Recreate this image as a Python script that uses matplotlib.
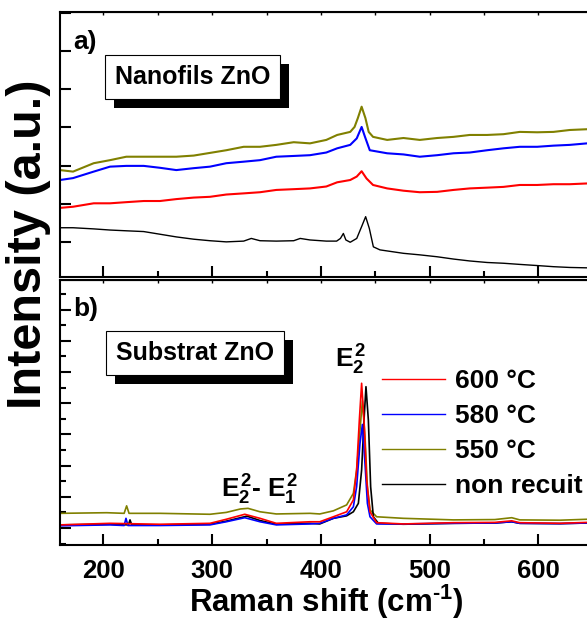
import matplotlib.pyplot as plt
import matplotlib.patheffects as pe
from matplotlib.ticker import MultipleLocator

plt.rcParams['font.family'] = ['Liberation Sans', 'DejaVu Sans']
plt.rcParams['font.weight'] = 'bold'
plt.rcParams['axes.labelweight'] = 'bold'
plt.rcParams['mathtext.fontset'] = 'custom'
plt.rcParams['mathtext.rm'] = 'Liberation Sans:bold'
plt.rcParams['mathtext.bf'] = 'Liberation Sans:bold'
plt.rcParams['mathtext.it'] = 'Liberation Sans:bold'

# a) nanowires, values (a.u.)
olive_a_x = [160, 172, 191, 206, 221, 237, 252, 267, 283, 298, 313, 329, 344, 359, 375, 390, 405,
             415, 427, 431, 434, 437.5, 441, 444, 448,
             461, 476, 491, 507, 522, 537, 553, 568, 583, 599, 614, 629, 645]
olive_a_y = [1.88, 1.84, 2.06, 2.14, 2.23, 2.23, 2.23, 2.23, 2.26, 2.33, 2.40, 2.49, 2.49, 2.54, 2.61, 2.58, 2.67,
             2.80, 2.88, 3.01, 3.24, 3.54, 3.24, 2.88, 2.75,
             2.67, 2.72, 2.67, 2.72, 2.75, 2.80, 2.80, 2.82, 2.88, 2.87, 2.88, 2.93, 2.95]

blue_a_x = [160, 172, 191, 206, 221, 237, 252, 267, 283, 298, 313, 329, 344, 359, 375, 390, 405,
            415, 427, 433, 437.5, 440.6, 445,
            461, 476, 491, 507, 522, 537, 553, 568, 583, 599, 614, 629, 645]
blue_a_y = [1.62, 1.67, 1.84, 1.97, 1.99, 1.99, 1.94, 1.88, 1.93, 1.97, 2.06, 2.10, 2.14, 2.23, 2.25, 2.27, 2.34,
            2.45, 2.54, 2.71, 3.01, 2.75, 2.40,
            2.32, 2.29, 2.23, 2.27, 2.32, 2.34, 2.40, 2.45, 2.49, 2.49, 2.52, 2.54, 2.58]

red_a_x = [160, 172, 191, 206, 221, 237, 252, 267, 283, 298, 313, 329, 344, 359, 375, 390, 405,
           415, 427, 433, 437.5, 442, 448,
           461, 476, 491, 507, 522, 537, 553, 568, 583, 599, 614, 629, 645]
red_a_y = [0.89, 0.92, 1.01, 1.01, 1.04, 1.07, 1.07, 1.12, 1.16, 1.18, 1.24, 1.27, 1.30, 1.36, 1.38, 1.40, 1.45,
           1.56, 1.62, 1.71, 1.85, 1.66, 1.49,
           1.40, 1.34, 1.30, 1.31, 1.36, 1.40, 1.42, 1.44, 1.49, 1.49, 1.51, 1.51, 1.53]

black_a_x = [160, 172, 191, 206, 221, 237, 252, 267, 283, 298, 313, 329, 336, 344, 359, 375, 381, 390, 405,
             414.5, 418, 420.7, 423, 427, 433, 437.5, 441.2, 444.6, 448.3, 454.4,
             476, 491, 507, 522, 537, 553, 568, 583, 599, 614, 629, 645]
black_a_y = [0.37, 0.37, 0.34, 0.31, 0.29, 0.27, 0.20, 0.13, 0.07, 0.03, 0.00, 0.02, 0.09, 0.03, 0.02, 0.03, 0.09, 0.05, 0.02,
             0.02, 0.09, 0.22, 0.05, -0.01, 0.09, 0.40, 0.66, 0.35, -0.13, -0.21,
             -0.30, -0.34, -0.39, -0.45, -0.50, -0.54, -0.56, -0.59, -0.62, -0.65, -0.67, -0.68]

# b) substrate
olive_b_x = [160, 203, 219, 221.3, 223.5, 252, 298, 313, 326, 333, 344, 359, 390, 399, 411.5, 423.7,
             429.9, 432.9, 436, 438.2, 440.6, 442.8, 445.2, 451.3, 475.9, 521.9, 560, 575.6, 583, 620, 645]
olive_b_y = [0.47, 0.49, 0.47, 0.71, 0.47, 0.47, 0.44, 0.50, 0.61, 0.63, 0.52, 0.45, 0.47, 0.45, 0.55, 0.74,
             1.11, 1.86, 3.14, 4.08, 2.93, 1.32, 0.58, 0.36, 0.31, 0.26, 0.27, 0.33, 0.26, 0.25, 0.28]

red_b_x = [160, 206, 252, 298, 313, 330, 344, 359, 390, 399, 411.5, 423.7, 429.9, 432.9, 435.4,
           437.5, 439.7, 442.1, 445.2, 451.3, 475.9, 521.9, 560, 575.6, 583, 620, 645]
red_b_y = [0.10, 0.15, 0.12, 0.15, 0.28, 0.44, 0.31, 0.15, 0.20, 0.20, 0.36, 0.52, 0.90, 1.86, 3.46,
           4.64, 3.46, 1.54, 0.52, 0.17, 0.13, 0.17, 0.18, 0.23, 0.17, 0.15, 0.18]

blue_b_x = [160, 206, 219, 220.7, 222.5, 252, 298, 313, 330, 344, 359, 390, 399, 411.5, 423.7, 429.9,
            432.9, 436, 438.2, 440.6, 442.8, 445.2, 451.3, 475.9, 521.9, 560, 575.6, 583, 620, 645]
blue_b_y = [0.07, 0.10, 0.08, 0.31, 0.08, 0.08, 0.10, 0.20, 0.33, 0.20, 0.10, 0.13, 0.15, 0.31, 0.42, 0.68,
            1.32, 2.71, 3.32, 2.07, 0.79, 0.36, 0.13, 0.13, 0.15, 0.16, 0.20, 0.15, 0.14, 0.16]

black_b_x = [160, 206, 223, 224.4, 226, 252, 298, 313, 332, 344, 359, 390, 399, 411.5, 423.7, 429.9,
             434.5, 437.5, 439.7, 441.5, 443.7, 445.8, 448.3, 452.9, 475.9, 521.9, 560, 575.6, 583, 620, 645]
black_b_y = [0.10, 0.12, 0.10, 0.26, 0.10, 0.10, 0.12, 0.22, 0.38, 0.24, 0.12, 0.15, 0.13, 0.31, 0.39, 0.52,
             0.79, 1.86, 3.46, 4.53, 3.46, 1.32, 0.36, 0.15, 0.12, 0.15, 0.16, 0.20, 0.15, 0.14, 0.16]

labels = ['600 °C', '580 °C', '550 °C', 'non recuit']
colors = ['#ff0000', '#0000ff', '#808000', '#000000']

W, H = 587, 622
fig = plt.figure(figsize=(W / 100, H / 100), dpi=100)
axw = 532.6 / W
ax1 = fig.add_axes([60 / W, 1 - 277 / H, axw, 265 / H])
ax2 = fig.add_axes([60 / W, 1 - 545 / H, axw, 265 / H])

ax1.plot(black_a_x, black_a_y, color=colors[3], lw=1.0)
ax1.plot(red_a_x, red_a_y, color=colors[0], lw=1.5)
ax1.plot(blue_a_x, blue_a_y, color=colors[1], lw=1.5)
ax1.plot(olive_a_x, olive_a_y, color=colors[2], lw=1.5)

ax2.plot(olive_b_x, olive_b_y, color=colors[2], lw=1.2, label=labels[2])
ax2.plot(black_b_x, black_b_y, color=colors[3], lw=1.2, label=labels[3])
ax2.plot(blue_b_x, blue_b_y, color=colors[1], lw=1.2, label=labels[1])
ax2.plot(red_b_x, red_b_y, color=colors[0], lw=1.2, label=labels[0])

ax1.set_ylim(-0.92, 6.02)
ax2.set_ylim(-0.545, 7.95)
for ax in (ax1, ax2):
    ax.set_xlim(160, 650)
    for s in ax.spines.values():
        s.set_linewidth(1.5)
    ax.xaxis.set_major_locator(MultipleLocator(100))
    ax.xaxis.set_minor_locator(MultipleLocator(50))
    ax.tick_params(which='major', direction='in', length=8, width=1.5, labelsize=18.5, pad=10)
    ax.tick_params(which='minor', direction='in', length=4.5, width=1.5)
    ax.tick_params(axis='y', labelleft=False)
    top = ax.secondary_xaxis('top')
    top.set_xticks(list(range(200, 651, 50)))
    top.tick_params(direction='in', length=2.5, width=1, labeltop=False)

ax1.yaxis.set_major_locator(MultipleLocator(1))
ax1.tick_params(axis='x', labelbottom=False)
ax2.yaxis.set_major_locator(MultipleLocator(1))
ax2.yaxis.set_minor_locator(MultipleLocator(0.5))
ax2.set_xticks(list(range(200, 601, 100)))
ax2.set_xticklabels([str(v) for v in range(200, 601, 100)], fontweight='bold', fontsize=18.5)

ax1.text(0.024, 0.887, 'a)', transform=ax1.transAxes, fontsize=19, ha='left', va='center')
ax2.text(0.024, 0.89, 'b)', transform=ax2.transAxes, fontsize=19, ha='left', va='center')

shadow = [pe.SimplePatchShadow(offset=(6.5, -6.5), shadow_rgbFace='k', alpha=1), pe.Normal()]
for ax, txt, x, y in ((ax1, 'Nanofils ZnO', 0.249, 0.753), (ax2, 'Substrat ZnO', 0.254, 0.7245)):
    t = ax.text(x, y, txt, transform=ax.transAxes, fontsize=18, ha='center', va='center',
                bbox=dict(boxstyle='square,pad=0.4', fc='white', ec='black', lw=0.8))
    t.get_bbox_patch().set_path_effects(shadow)

ax2.text(0.546, 0.698, r'$E_2^2$', transform=ax2.transAxes, fontsize=19, ha='center', va='center')
ax2.text(0.3755, 0.2075, r'$E_2^2$- $E_1^2$', transform=ax2.transAxes, fontsize=19, ha='center', va='center')

handles, labs = ax2.get_legend_handles_labels()
order = [labs.index(l) for l in labels]
leg = ax2.legend([handles[i] for i in order], labels, loc='upper left',
                 bbox_to_anchor=(382 / W, 1 - 369 / H), bbox_transform=fig.transFigure,
                 frameon=False, fontsize=19, handlelength=2.4, handletextpad=0.35,
                 labelspacing=0.42, borderpad=0, borderaxespad=0)
for h in leg.get_lines():
    h.set_linewidth(1.0)

ax2.set_xlabel(r'Raman shift (cm$^{\text{-}1}$)', fontsize=22.5, fontweight='bold', labelpad=0)
fig.text(29 / W, 1 - 244 / H, 'Intensity (a.u.)', rotation=90, fontsize=35, ha='center', va='center')

fig.savefig('out.png', dpi=100)
